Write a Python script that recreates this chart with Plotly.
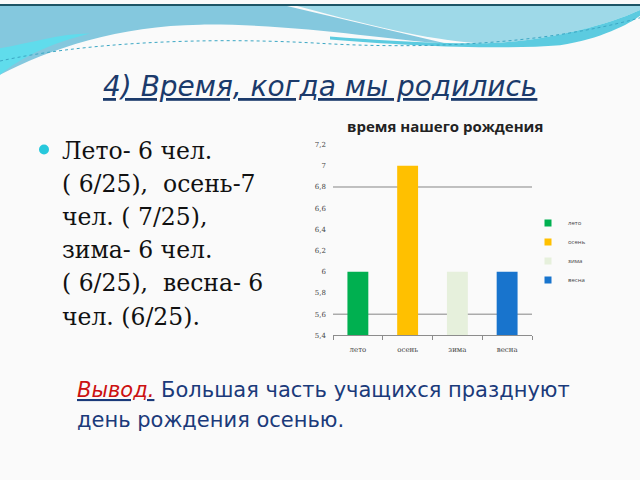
import plotly.graph_objects as go

# данные диаграммы
seasons = ["лето", "осень", "зима", "весна"]
counts = [6, 7, 6, 6]
bar_colors = ["#00B050", "#FFC000", "#E6F0DC", "#1874CD"]
y_ticks = [5.4, 5.6, 5.8, 6.0, 6.2, 6.4, 6.6, 6.8, 7.0, 7.2]
grid_ticks = [5.6, 6.8]

title_text = "4) Время, когда мы родились"
chart_title = "время нашего рождения"
bullet_lines = ["Лето- 6 чел.", "( 6/25),  осень-7", "чел. ( 7/25),",
                "зима- 6 чел.", "( 6/25),  весна- 6", "чел. (6/25)."]
conclusion_1 = "Большая часть учащихся празднуют"
conclusion_2 = "день рождения осенью."

W, H = 640, 480


def px(x, y):
    # пиксели -> координаты paper (поля = 0)
    return f"{x / W:.4f},{1 - y / H:.4f}"


def path(cmds):
    out = []
    for c in cmds:
        if isinstance(c, str):
            out.append(c)
        else:
            out.append(px(*c))
    return " ".join(out)


fig = go.Figure()

for s, v, c in zip(seasons, counts, bar_colors):
    fig.add_trace(go.Bar(x=[s], y=[v], name=s, marker_color=c,
                         marker_line_width=0, width=0.42, showlegend=False))
# маленькие квадраты для легенды
for s, c in zip(seasons, bar_colors):
    fig.add_trace(go.Scatter(x=[None], y=[None], mode="markers", name=s,
                             marker=dict(symbol="square", size=7, color=c)))

# шапка слайда
shapes = [
    dict(type="path", xref="paper", yref="paper", line_width=0, fillcolor="#84C8DE",
         path=path(["M", (0, 2), "L", (287, 2), "L", (445, 40), "C", (380, 36), (300, 20), (200, 21),
                    "C", (120, 22), (50, 45), (0, 72), "Z"])),
    dict(type="path", xref="paper", yref="paper", line_width=0, fillcolor="#60DCEC",
         path=path(["M", (0, 45), "C", (30, 40), (60, 30), (90, 30), "C", (50, 40), (20, 55), (0, 72), "Z"])),
    dict(type="path", xref="paper", yref="paper", line_width=0, fillcolor="#9ED9E8",
         path=path(["M", (297, 2), "L", (640, 2), "L", (640, 6), "C", (600, 25), (530, 40), (480, 40),
                    "C", (440, 38), (380, 25), (297, 2), "Z"])),
    dict(type="path", xref="paper", yref="paper", line_width=0, fillcolor="#5CCBE0",
         path=path(["M", (330, 36), "C", (400, 42), (500, 47), (560, 42), "C", (600, 36), (630, 20), (640, 12),
                    "L", (640, 6), "C", (600, 25), (530, 40), (480, 40), "C", (420, 40), (370, 36), (330, 33), "Z"])),
    dict(type="path", xref="paper", yref="paper", line=dict(color="#3BA7C4", width=1, dash="dot"),
         path=path(["M", (0, 58), "C", (80, 40), (200, 33), (320, 40), "C", (420, 46), (540, 42), (640, 14)])),
    dict(type="rect", xref="paper", yref="paper", line_width=0, fillcolor="#1D5566",
         x0=0, x1=1, y0=1 - 2 / H, y1=1),
    dict(type="circle", xref="paper", yref="paper", line_width=0, fillcolor="#27C8DC",
         x0=39 / W, x1=49 / W, y0=1 - 153 / H, y1=1 - 143 / H),
]
# линии сетки только на 5,6 и 6,8
for g in grid_ticks:
    shapes.append(dict(type="line", xref="x domain", yref="y", x0=0, x1=1, y0=g, y1=g,
                       line=dict(color="#858585", width=1), layer="below"))

annotations = [
    dict(text=f"<i><u>{title_text}</u></i>", x=320 / W, y=1 - 84 / H, xref="paper", yref="paper",
         showarrow=False, font=dict(family="DejaVu Sans", size=28, color="#1B3A6B"),
         xanchor="center", yanchor="middle"),
    dict(text=f"<b>{chart_title}</b>", x=445 / W, y=1 - 124 / H, xref="paper", yref="paper",
         showarrow=False, font=dict(family="Open Sans", size=15, color="#222222"),
         xanchor="center", yanchor="middle"),
    dict(text=f'<i><u><span style="color:#CC1111">Вывод.</span></u></i> {conclusion_1}',
         x=75 / W, y=1 - 393 / H, xref="paper", yref="paper", showarrow=False,
         font=dict(family="DejaVu Sans", size=21, color="#1B3A7A"), xanchor="left", yanchor="middle"),
    dict(text=conclusion_2, x=75 / W, y=1 - 423 / H, xref="paper", yref="paper", showarrow=False,
         font=dict(family="DejaVu Sans", size=21, color="#1B3A7A"), xanchor="left", yanchor="middle"),
]
for i, line in enumerate(bullet_lines):
    annotations.append(dict(text=line, x=60 / W, y=1 - (149 + i * 33.8) / H, xref="paper", yref="paper",
                            showarrow=False, font=dict(family="DejaVu Serif", size=23.5, color="#111111"),
                            xanchor="left", yanchor="middle"))

fig.update_layout(
    width=W, height=H,
    margin=dict(l=0, r=0, t=0, b=0),
    paper_bgcolor="#FAFAFA", plot_bgcolor="rgba(0,0,0,0)",
    separators=", ",
    barmode="overlay",
    showlegend=True,
    legend=dict(x=528 / W, y=1 - 208 / H, xanchor="left", yanchor="top",
                font=dict(family="Open Sans", size=6, color="#444444"),
                bgcolor="rgba(0,0,0,0)", itemwidth=30, itemsizing="trace"),
    xaxis=dict(domain=[333 / W, 532 / W], showline=True, linecolor="#8C8C8C", linewidth=1,
               ticks="outside", tickson="boundaries", ticklen=4, tickcolor="#8C8C8C",
               ticklabelstandoff=7,
               tickfont=dict(family="DejaVu Serif", size=7, color="#444444"), showgrid=False),
    yaxis=dict(domain=[1 - 337 / H, 1 - 143 / H], range=[5.4, 7.2], tickvals=y_ticks,
               showgrid=False, zeroline=False, showline=False, ticks="", ticklabelstandoff=6,
               tickfont=dict(family="DejaVu Serif", size=7, color="#444444")),
    shapes=shapes,
    annotations=annotations,
)

fig.write_html("out.html", config={"displayModeBar": False},
               post_script="document.body.style.margin='0';")
